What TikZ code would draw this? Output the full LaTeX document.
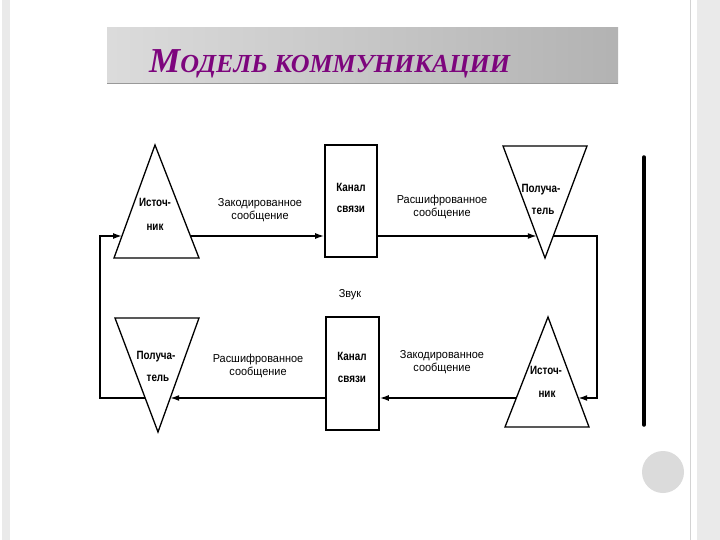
\documentclass[tikz,border=0pt]{standalone}
\usepackage{fontspec}
\setmainfont{Liberation Serif}
\newfontfamily\labfont[FakeStretch=0.95]{Liberation Sans}
\newfontfamily\boldlab[FakeStretch=0.82]{Liberation Sans}
\newfontfamily\titlefont{Liberation Serif}
\usetikzlibrary{arrows.meta}
\definecolor{ttl}{RGB}{125,5,125}
\definecolor{framegray}{RGB}{234,234,234}
\begin{document}
\begin{tikzpicture}[x=1pt,y=-1pt,
  tri/.style={draw=black,line width=1.3pt,line join=miter},
  box/.style={draw=black,line width=1.6pt,rectangle,inner sep=0pt},
  arr/.style={line width=1.5pt,-{Latex[length=9pt,width=6pt]}},
  bl/.style={font=\boldlab\bfseries\fontsize{12}{14}\selectfont,inner sep=0pt},
  lab/.style={font=\labfont\fontsize{11.5}{13}\selectfont,align=center,inner sep=0pt}]
% canvas
\fill[white] (0,0) rectangle (720,540);
\useasboundingbox (0,0) rectangle (720,540);
\fill[framegray] (2,0) rectangle (10,540);
\fill[framegray] (697,0) rectangle (720,540);
\draw[line width=1pt,color=framegray!90!black] (690,0) -- (690,540);
\fill[color=black!14] (663,472) circle (21);
% title bar
\shade[left color=black!14,right color=black!30] (107,28) rectangle (618,84);
\draw[line width=1.2pt,color=black!40] (107,83.5) -- (618,83.5);
\node[anchor=base west,text=ttl,inner sep=0pt] (title) at (149,73)
  {\titlefont\bfseries\itshape\fontsize{35}{35}\selectfont М\fontsize{26}{26}\selectfont ОДЕЛЬ КОММУНИКАЦИИ};
% scan bar
\draw[line width=3.5pt,line cap=round] (644,157) -- (644,425);
% triangles
\coordinate (A1) at (155,145); \coordinate (B1) at (114,258); \coordinate (C1) at (199,258);
\draw[tri] (A1) -- (B1) -- (C1) -- cycle;
\coordinate (A2) at (503,146); \coordinate (B2) at (587,146); \coordinate (C2) at (545,258);
\draw[tri] (A2) -- (B2) -- (C2) -- cycle;
\coordinate (A3) at (548,317); \coordinate (B3) at (505,427); \coordinate (C3) at (589,427);
\draw[tri] (A3) -- (B3) -- (C3) -- cycle;
\coordinate (A4) at (115,318); \coordinate (B4) at (199,318); \coordinate (C4) at (158,432);
\draw[tri] (A4) -- (B4) -- (C4) -- cycle;
% triangle texts
\node[bl] (s1a) at (155,202) {Источ-};
\node[bl] (s1b) at (155,227) {ник};
\node[bl] (r1a) at (541,190) {Получа-};
\node[bl] (r1b) at (543,211) {тель};
\node[bl] (s2a) at (546,370) {Источ-};
\node[bl] (s2b) at (547,394) {ник};
\node[bl] (r2a) at (156,357) {Получа-};
\node[bl] (r2b) at (158,378) {тель};
% boxes
\node[box,minimum width=52pt,minimum height=112pt] (K1) at (351,201) {};
\node[bl] (k1a) at (351,187) {Канал};
\node[bl] (k1b) at (351,209) {связи};
\node[box,minimum width=53pt,minimum height=113pt] (K2) at (352.5,373.5) {};
\node[bl] (k2a) at (352,356) {Канал};
\node[bl] (k2b) at (352,379) {связи};
% labels
\node[lab] (l1) at (260,210.5) {Закодированное\\сообщение};
\node[lab] (l2) at (442,207) {Расшифрованное\\сообщение};
\node[lab] (l3) at (258,365.5) {Расшифрованное\\сообщение};
\node[lab] (l4) at (442,362.5) {Закодированное\\сообщение};
\node[lab] (zv) at (350,295) {Звук};
% connector end points
\coordinate (T1r) at (190.4,236); \coordinate (T1l) at (122,236);
\coordinate (T2l) at (536.8,236); \coordinate (T2r) at (553.2,236);
\coordinate (T3r) at (578.2,398); \coordinate (T3l) at (516.4,398);
\coordinate (T4r) at (170.2,398); \coordinate (T4l) at (145.2,398);
\coordinate (RT) at (597,236); \coordinate (RB) at (597,398);
\coordinate (LT) at (100,236); \coordinate (LB) at (100,398);
% connectors
\draw[arr] (T1r) -- (T1r -| K1.west);
\draw[arr] (T2l -| K1.east) -- (T2l);
\draw[arr] (T2r) -- (RT) -- (RB) -- (T3r);
\draw[arr] (T3l) -- (T3l -| K2.east);
\draw[arr] (T4r -| K2.west) -- (T4r);
\draw[arr] (T4l) -- (LB) -- (LT) -- (T1l);
\end{tikzpicture}
\end{document}
